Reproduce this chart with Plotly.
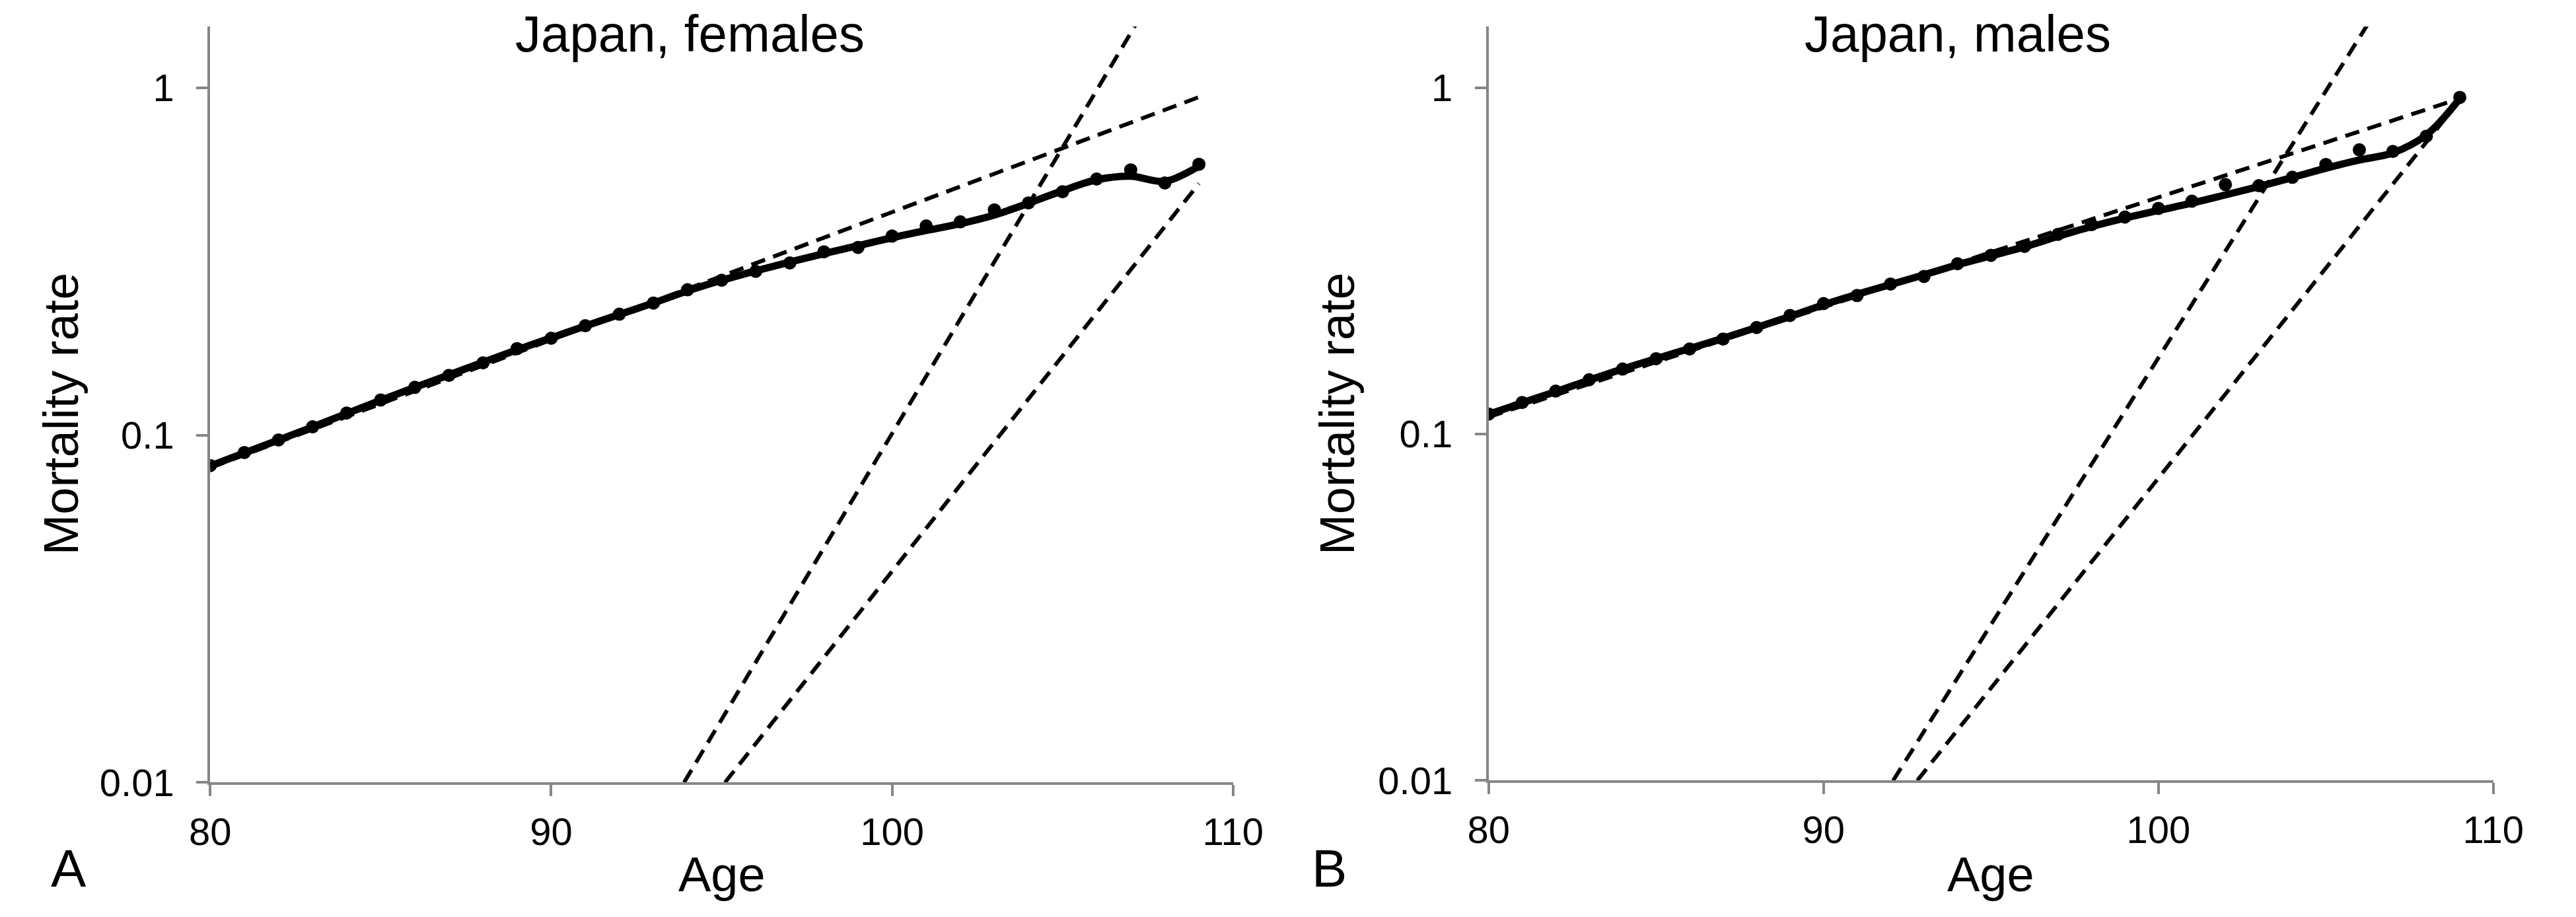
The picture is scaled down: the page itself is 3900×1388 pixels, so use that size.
import math
import plotly.graph_objects as go

# ---------------- data ----------------
ages = list(range(80, 110))

female_rate = [0.0817, 0.0891, 0.0968, 0.1056, 0.1157, 0.1262, 0.1372, 0.1485, 0.1614, 0.1774,
               0.190, 0.2064, 0.2228, 0.240, 0.262, 0.279, 0.296, 0.313, 0.337, 0.347,
               0.374, 0.400, 0.411, 0.445, 0.466, 0.502, 0.546, 0.580, 0.532, 0.602]
female_fit = [0.0815, 0.0888, 0.0967, 0.1055, 0.1153, 0.1260, 0.1372, 0.1490, 0.1620, 0.1760,
              0.1905, 0.2060, 0.2225, 0.2400, 0.2600, 0.2790, 0.2970, 0.3150, 0.3330, 0.3510,
              0.3700, 0.3880, 0.4060, 0.4300, 0.4650, 0.5050, 0.5430, 0.5560, 0.5380, 0.5950]
female_gompertz_age = [80, 109]
female_gompertz_rate = [0.0805, 0.94]
female_steep_age = [93.9, 107.2]
female_steep_rate = [0.01, 1.55]
female_late_age = [95.1, 109]
female_late_rate = [0.01, 0.53]

male_rate = [0.1142, 0.1233, 0.133, 0.1435, 0.154, 0.165, 0.176, 0.188, 0.203, 0.220,
             0.238, 0.251, 0.271, 0.285, 0.310, 0.328, 0.348, 0.377, 0.402, 0.423,
             0.448, 0.470, 0.525, 0.521, 0.551, 0.600, 0.661, 0.654, 0.724, 0.937]
male_fit = [0.1140, 0.1230, 0.1325, 0.1430, 0.1540, 0.1650, 0.1765, 0.1890, 0.2030, 0.2185,
            0.2360, 0.2530, 0.2700, 0.2880, 0.3080, 0.3270, 0.3470, 0.3720, 0.3970, 0.4200,
            0.4420, 0.4640, 0.4900, 0.5180, 0.5500, 0.5850, 0.6180, 0.6480, 0.7300, 0.9300]
male_gompertz_age = [80, 109]
male_gompertz_rate = [0.112, 0.93]
male_steep_age = [92.08, 106.3]
male_steep_rate = [0.01, 1.55]
male_late_age = [92.8, 109]
male_late_rate = [0.01, 0.92]

x_ticks = [80, 90, 100, 110]
y_ticks = [0.01, 0.1, 1]
y_ticktext = ["0.01", "0.1", "1"]

titles = ["Japan, females", "Japan, males"]
panel_labels = ["A", "B"]

# ---------------- figure ----------------
W, H = 3900, 1388
FONT = "Liberation Sans, Arial, sans-serif"
AXIS_GREY = "#868686"
DASH = "22px,13px"

fig = go.Figure()

panels = [
    ("x", "y", female_rate, female_fit,
     (female_gompertz_age, female_gompertz_rate),
     (female_steep_age, female_steep_rate),
     (female_late_age, female_late_rate)),
    ("x2", "y2", male_rate, male_fit,
     (male_gompertz_age, male_gompertz_rate),
     (male_steep_age, male_steep_rate),
     (male_late_age, male_late_rate)),
]

for xa, ya, rate, fit, gomp, steep, late in panels:
    for (lx, ly) in (gomp, steep, late):
        fig.add_trace(go.Scatter(x=lx, y=ly, mode="lines", xaxis=xa, yaxis=ya,
                                 line=dict(color="black", width=6, dash=DASH),
                                 showlegend=False, hoverinfo="skip"))
    fig.add_trace(go.Scatter(x=ages, y=fit, mode="lines", xaxis=xa, yaxis=ya,
                             line=dict(color="black", width=11, shape="spline", smoothing=1.0),
                             showlegend=False))
    fig.add_trace(go.Scatter(x=ages, y=rate, mode="markers", xaxis=xa, yaxis=ya,
                             marker=dict(color="black", size=20),
                             showlegend=False))


def px_x(p):
    return p / W


def px_y(p):
    return (H - p) / H


axis_common = dict(showline=True, linecolor=AXIS_GREY, linewidth=4, showgrid=False,
                   zeroline=False, ticks="outside", ticklen=17, tickwidth=4,
                   tickcolor=AXIS_GREY, tickfont=dict(family=FONT, size=58, color="black"))

yr = [-2, math.log10(1.5)]

fig.update_layout(
    width=W, height=H, margin=dict(l=0, r=0, t=0, b=0),
    paper_bgcolor="white", plot_bgcolor="white",
    xaxis=dict(domain=[px_x(284), px_x(1864)], range=[80, 110], tickvals=x_ticks,
               anchor="y", ticklabelstandoff=4, **axis_common),
    yaxis=dict(domain=[px_y(1204), px_y(33)], type="log", range=yr, tickvals=y_ticks,
               ticktext=y_ticktext, anchor="x", ticklabelstandoff=22, **axis_common),
    xaxis2=dict(domain=[px_x(2259), px_x(3811)], range=[80, 110], tickvals=x_ticks,
                anchor="y2", ticklabelstandoff=4, **axis_common),
    yaxis2=dict(domain=[px_y(1201), px_y(33)], type="log", range=yr, tickvals=y_ticks,
                ticktext=y_ticktext, anchor="x2", ticklabelstandoff=22, **axis_common),
)

ann = []
title_x = [1025, 2984]
age_x = [1074, 3035]
ylab_x = [53, 2025]
lab_x = [65, 2013]
for i in range(2):
    ann.append(dict(text=titles[i], x=px_x(title_x[i]), y=px_y(44), xref="paper", yref="paper",
                    xanchor="center", yanchor="middle", showarrow=False,
                    font=dict(family=FONT, size=78, color="black")))
    ann.append(dict(text="Age", x=px_x(age_x[i]), y=px_y(1347), xref="paper", yref="paper",
                    xanchor="center", yanchor="middle", showarrow=False,
                    font=dict(family=FONT, size=74, color="black")))
    ann.append(dict(text="Mortality rate", x=px_x(ylab_x[i]), y=px_y(633), xref="paper",
                    yref="paper", xanchor="center", yanchor="middle", textangle=-90,
                    showarrow=False, font=dict(family=FONT, size=74, color="black")))
    ann.append(dict(text=panel_labels[i], x=px_x(lab_x[i]), y=px_y(1337), xref="paper",
                    yref="paper", xanchor="center", yanchor="middle", showarrow=False,
                    font=dict(family=FONT, size=80, color="black")))
fig.update_layout(annotations=ann)

fig.write_html("out.html")
